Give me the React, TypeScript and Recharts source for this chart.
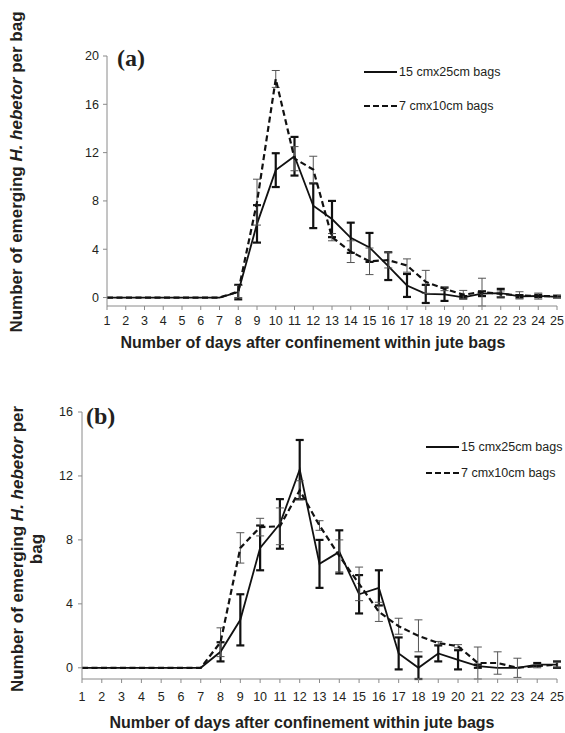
import React from 'react'
import { LineChart, Line, XAxis, YAxis, ErrorBar, Legend } from 'recharts'

// ─── Data ────────────────────────────────────────────────────────

const days = [1, 2, 3, 4, 5, 6, 7, 8, 9, 10, 11, 12, 13, 14, 15, 16, 17, 18, 19, 20, 21, 22, 23, 24, 25]

const seriesNames = ['15 cmx25cm bags', '7 cmx10cm bags']

// panel (a)
const aLargeMean = [0, 0, 0, 0, 0, 0, 0, 0.45, 6.1, 10.55, 11.7, 7.6, 6.5, 4.95, 4.15, 2.6, 1.0, 0.3, 0.27, 0.02, 0.32, 0.37, 0.1, 0.13, 0.05]
const aLargeErr = [0, 0, 0, 0, 0, 0, 0, 0.6, 1.55, 1.4, 1.6, 1.85, 1.5, 1.25, 1.2, 1.15, 0.95, 0.75, 0.55, 0.1, 0.2, 0.35, 0.1, 0.1, 0.05]
const aSmallMean = [0, 0, 0, 0, 0, 0, 0, 0.5, 7.9, 18.1, 11.5, 10.6, 5.0, 3.8, 3.0, 3.1, 2.65, 1.3, 0.72, 0.24, 0.45, 0.3, 0.18, 0.12, 0.12]
const aSmallErr = [0, 0, 0, 0, 0, 0, 0, 0.5, 1.9, 0.7, 1.0, 1.1, 0.3, 0.9, 1.1, 0.65, 0.55, 0.95, 0.15, 0.35, 1.15, 0.25, 0.3, 0.25, 0.1]

// panel (b)
const bLargeMean = [0, 0, 0, 0, 0, 0, 0, 1.0, 3.0, 7.5, 9.0, 12.4, 6.5, 7.25, 4.6, 5.0, 0.9, 0, 0.9, 0.5, 0.1, 0, 0, 0.2, 0.2]
const bLargeErr = [0, 0, 0, 0, 0, 0, 0, 0.6, 1.6, 1.4, 1.55, 1.85, 1.5, 1.35, 1.2, 1.1, 1.0, 0.7, 0.5, 0.6, 0.1, 0, 0, 0.1, 0.2]
const bSmallMean = [0, 0, 0, 0, 0, 0, 0, 1.6, 7.5, 8.8, 8.85, 11.1, 8.9, 7.0, 5.25, 3.5, 2.6, 2.0, 1.55, 1.35, 0.3, 0.3, 0.0, 0.1, 0.2]
const bSmallErr = [0, 0, 0, 0, 0, 0, 0, 0.9, 0.95, 0.55, 1.15, 0.6, 0.3, 1.0, 1.05, 0.6, 0.5, 1.0, 0.1, 0.1, 1.0, 0.7, 0.6, 0.1, 0.15]

const aTicks = [0, 4, 8, 12, 16, 20]
const bTicks = [0, 4, 8, 12, 16]

const FONT = '"Liberation Sans", Arial, Helvetica, sans-serif'
const SERIF = '"Liberation Serif", "Times New Roman", serif'
const AXIS_GRAY = '#8a8a8a'
const TEXT = '#231f20'

const LEGEND_DASH: Record<string, string | undefined> = {
  '15 cmx25cm bags': undefined,
  '7 cmx10cm bags': '6 3',
}

function buildRows(large: number[], largeErr: number[], small: number[], smallErr: number[]) {
  return days.map((day, i) => ({
    day,
    large: large[i],
    largeErr: largeErr[i],
    small: small[i],
    smallErr: smallErr[i],
  }))
}

const aRows = buildRows(aLargeMean, aLargeErr, aSmallMean, aSmallErr)
const bRows = buildRows(bLargeMean, bLargeErr, bSmallMean, bSmallErr)

// ─── Legend ──────────────────────────────────────────────────────

function makeLegend(rowHeight: number) {
  return function LegendContent({ payload }: any) {
    return (
      <div style={{ fontFamily: FONT, fontSize: 12.5, color: TEXT }}>
        {(payload || []).map((entry: any) => (
          <div key={entry.value} style={{ display: 'flex', alignItems: 'center', height: rowHeight }}>
            <svg width={34} height={6} style={{ display: 'block' }}>
              <line x1={0} y1={3} x2={33} y2={3} stroke="#111" strokeWidth={2} strokeDasharray={LEGEND_DASH[entry.value]} />
            </svg>
            <span style={{ marginLeft: 1, whiteSpace: 'nowrap' }}>{entry.value}</span>
          </div>
        ))}
      </div>
    )
  }
}

// ─── Panel ───────────────────────────────────────────────────────

interface PanelProps {
  rows: any[]
  height: number
  yMax: number
  yTicks: number[]
  margin: { top: number; right: number; bottom: number; left: number }
  xTickMargin: number
  yTickMargin: number
  legendLeft: number
  legendTop: number
  legendRow: number
}

function Panel({ rows, height, yMax, yTicks, margin, xTickMargin, yTickMargin, legendLeft, legendTop, legendRow }: PanelProps) {
  const tickStyle = { fill: TEXT, fontSize: 12.5, fontFamily: FONT }
  return (
    <LineChart width={565} height={height} data={rows} margin={margin}>
      <XAxis
        dataKey="day"
        type="number"
        domain={[1, 25]}
        ticks={days}
        interval={0}
        tick={tickStyle}
        tickSize={4}
        tickMargin={xTickMargin}
        axisLine={{ stroke: AXIS_GRAY }}
        tickLine={{ stroke: AXIS_GRAY }}
        height={30}
      />
      <YAxis
        type="number"
        domain={[0, yMax]}
        ticks={yTicks}
        interval={0}
        tick={tickStyle}
        tickSize={4}
        tickMargin={yTickMargin}
        axisLine={{ stroke: AXIS_GRAY }}
        tickLine={{ stroke: AXIS_GRAY }}
        width={40}
      />
      <Legend
        layout="vertical"
        align="center"
        verticalAlign="middle"
        content={makeLegend(legendRow)}
        wrapperStyle={{ left: legendLeft, top: legendTop, width: 220 }}
      />
      <Line
        type="linear"
        dataKey="large"
        name={seriesNames[0]}
        stroke="#111"
        strokeWidth={1.8}
        dot={false}
        activeDot={false}
        isAnimationActive={false}
      >
        <ErrorBar dataKey="largeErr" width={4} stroke="#111" strokeWidth={2.2} direction="y" isAnimationActive={false} />
      </Line>
      <Line
        type="linear"
        dataKey="small"
        name={seriesNames[1]}
        stroke="#111"
        strokeWidth={2.2}
        strokeDasharray="6 3.5"
        dot={false}
        activeDot={false}
        isAnimationActive={false}
      >
        <ErrorBar dataKey="smallErr" width={4} stroke="#555" strokeWidth={1} direction="y" isAnimationActive={false} />
      </Line>
    </LineChart>
  )
}

// ─── Page ────────────────────────────────────────────────────────

const xTitle = 'Number of days after confinement within jute bags'

export default function App() {
  const titleStyle: React.CSSProperties = {
    position: 'absolute',
    fontFamily: FONT,
    fontWeight: 'bold',
    fontSize: 16,
    color: TEXT,
    whiteSpace: 'nowrap',
    textAlign: 'center',
  }
  const panelLabel: React.CSSProperties = {
    position: 'absolute',
    fontFamily: SERIF,
    fontWeight: 'bold',
    fontSize: 24,
    color: TEXT,
  }
  return (
    <div style={{ position: 'fixed', left: 0, top: 0, width: 565, height: 733, background: '#fff', overflow: 'hidden' }}>
      <div style={{ position: 'absolute', left: 0, top: 0 }}>
        <Panel
          rows={aRows}
          height={360}
          yMax={20}
          yTicks={aTicks}
          margin={{ top: 56, right: 8, bottom: 24, left: 67 }}
          xTickMargin={6}
          yTickMargin={4}
          legendLeft={364}
          legendTop={55}
          legendRow={34}
        />
      </div>
      <div style={{ position: 'absolute', left: 0, top: 360 }}>
        <Panel
          rows={bRows}
          height={373}
          yMax={16}
          yTicks={bTicks}
          margin={{ top: 52, right: 8, bottom: 24, left: 42 }}
          xTickMargin={9}
          yTickMargin={5}
          legendLeft={426}
          legendTop={74}
          legendRow={26}
        />
      </div>

      {/* panel labels */}
      <div style={{ ...panelLabel, left: 117, top: 45 }}>(a)</div>
      <div style={{ ...panelLabel, left: 86, top: 403 }}>(b)</div>

      {/* x titles */}
      <div style={{ ...titleStyle, left: 113, width: 400, top: 334, lineHeight: '18px' }}>{xTitle}</div>
      <div style={{ ...titleStyle, left: 102, width: 400, top: 714, lineHeight: '18px' }}>{xTitle}</div>

      {/* y titles */}
      <div
        style={{
          ...titleStyle,
          fontSize: 17,
          left: 17 - 180,
          top: 172 - 10,
          width: 360,
          lineHeight: '20px',
          transform: 'rotate(-90deg)',
        }}
      >
        Number of emerging <i>H. hebetor</i> per bag
      </div>
      <div
        style={{
          ...titleStyle,
          fontSize: 17,
          left: 27 - 180,
          top: 549 - 19,
          width: 360,
          lineHeight: '19px',
          transform: 'rotate(-90deg)',
        }}
      >
        Number of emerging <i>H. hebetor</i> per
        <br />
        bag
      </div>
    </div>
  )
}
